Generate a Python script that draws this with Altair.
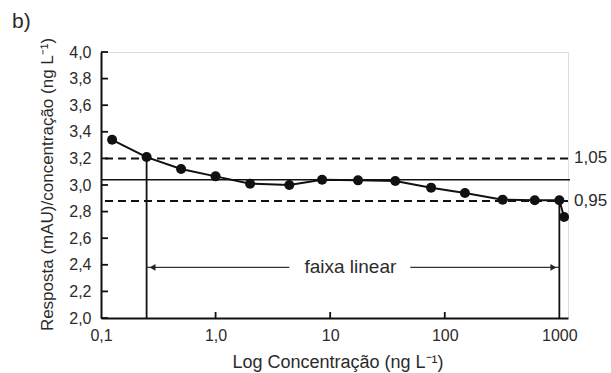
import altair as alt
import pandas as pd

# ---- data ----
conc = [0.125, 0.25, 0.5, 1.0, 2.0, 4.4, 8.5, 17.5, 37, 76, 150, 320, 610, 1000, 1100]
resp = [3.34, 3.21, 3.12, 3.065, 3.01, 3.00, 3.04, 3.035, 3.03, 2.98, 2.94, 2.89, 2.885, 2.885, 2.76]

ref_levels = [3.20, 3.04, 2.88]
ref_dashed = [True, False, True]
ref_labels = ["1,05", "", "0,95"]

lin_limits = [0.25, 1000]
lin_tops = [3.21, 2.885]
arrow_y = 2.38
arrow_starts = [0.25, 50]
arrow_ends = [4.4, 1000]
arrow_text = "faixa linear"
arrow_text_x = 15

x_ticks = [0.1, 1, 10, 100, 1000]
x_tick_labels = ["0,1", "1,0", "10", "100", "1000"]
y_ticks = [2.0, 2.2, 2.4, 2.6, 2.8, 3.0, 3.2, 3.4, 3.6, 3.8, 4.0]

x_title = "Log Concentração (ng L⁻¹)"
y_title = "Resposta (mAU)/concentração (ng L⁻¹)"
panel_label = "b)"

# ---- layout / style ----
W, H = 467, 266
FONT = "Liberation Sans"
INK = "#111111"
TXT = "#2b2b2b"

xscale = alt.Scale(type="log", domain=[0.1, 1190], nice=False)
yscale = alt.Scale(domain=[2.0, 4.0], nice=False, zero=False)

label_expr = " : ".join(
    f"datum.value == {v} ? '{l}'" for v, l in zip(x_ticks, x_tick_labels)
) + " : ''"

xaxis = alt.Axis(
    values=x_ticks, labelExpr=label_expr, ticks=False, grid=False,
    domainColor=INK, domainWidth=2, labelFont=FONT, labelFontSize=16,
    labelColor=TXT, labelPadding=9, labelFlush=False, labelOverlap=False,
    title=x_title, titleFont=FONT, titleFontSize=18, titleFontWeight="normal",
    titleColor=TXT, titleX=W / 2 + 3, titleY=44, titleBaseline="middle",
)
yaxis = alt.Axis(
    values=y_ticks, labelExpr="replace(format(datum.value, '.1f'), '.', ',')",
    ticks=False, grid=False, domainColor=INK, domainWidth=2,
    labelFont=FONT, labelFontSize=16, labelColor=TXT, labelPadding=10,
    labelOverlap=False, labelFlush=False,
    title=y_title, titleFont=FONT, titleFontSize=17, titleFontWeight="normal",
    titleColor=TXT, titleX=-54, titleY=H / 2 - 1, titleAngle=-90,
    titleAlign="center", titleBaseline="middle",
)


def X(field):
    return alt.X(field, type="quantitative", scale=xscale, axis=xaxis)


def Y(field):
    return alt.Y(field, type="quantitative", scale=yscale, axis=yaxis)


df = pd.DataFrame({"conc": conc, "resp": resp})

curve = alt.Chart(df).mark_line(color=INK, strokeWidth=2).encode(
    x=X("conc"), y=Y("resp"),
)
pts = alt.Chart(df).mark_circle(size=100, opacity=1, color=INK).encode(
    x=X("conc"), y=Y("resp"),
)

refdf = pd.DataFrame({"level": ref_levels, "dashed": ref_dashed, "label": ref_labels})
dashed = alt.Chart(refdf[refdf.dashed]).mark_rule(
    color=INK, strokeWidth=2, strokeDash=[8, 5]
).encode(
    y=Y("level"), x=alt.value(4), x2=alt.value(W + 4),
)
solid = alt.Chart(refdf[~refdf.dashed]).mark_rule(color=INK, strokeWidth=1.6).encode(
    y=Y("level"), x=alt.value(0), x2=alt.value(W + 2),
)
reflab = alt.Chart(refdf[refdf.dashed]).mark_text(
    align="left", baseline="middle", font=FONT, fontSize=17, color=TXT
).encode(
    y=Y("level"), x=alt.value(W + 6), text="label:N",
)

vdf = pd.DataFrame({"x": lin_limits, "top": lin_tops, "bottom": [2.0, 2.0]})
vlines = alt.Chart(vdf).mark_rule(color=INK, strokeWidth=1.8).encode(
    x=X("x"), y=Y("bottom"), y2="top:Q",
)

adf = pd.DataFrame({"x1": arrow_starts, "x2": arrow_ends, "y": [arrow_y, arrow_y]})
aline = alt.Chart(adf).mark_rule(color="#333333", strokeWidth=1.3).encode(
    x=X("x1"), x2="x2:Q", y=Y("y"),
)
hdf = pd.DataFrame({"x": lin_limits, "y": [arrow_y, arrow_y]})
head_l = alt.Chart(hdf.iloc[[0]]).mark_point(
    shape="triangle-left", filled=True, size=45, color="#222222", opacity=1, xOffset=6
).encode(x=X("x"), y=Y("y"))
head_r = alt.Chart(hdf.iloc[[1]]).mark_point(
    shape="triangle-right", filled=True, size=45, color="#222222", opacity=1, xOffset=-6
).encode(x=X("x"), y=Y("y"))
tdf = pd.DataFrame({"x": [arrow_text_x], "y": [arrow_y], "t": [arrow_text]})
atext = alt.Chart(tdf).mark_text(
    align="center", baseline="middle", font=FONT, fontSize=19, color=TXT
).encode(x=X("x"), y=Y("y"), text="t:N")

xt = pd.DataFrame({"x": x_ticks[1:4]})
xtick_marks = alt.Chart(xt).mark_rule(color=INK, strokeWidth=1.8).encode(
    x=X("x"), y=alt.value(H), y2=alt.value(H - 6)
)
yt = pd.DataFrame({"y": y_ticks})
ytick_marks = alt.Chart(yt).mark_rule(color=INK, strokeWidth=1.8).encode(
    y=Y("y"), x=alt.value(0), x2=alt.value(7)
)

pdf = pd.DataFrame({"t": [panel_label]})
plabel = alt.Chart(pdf).mark_text(
    align="left", baseline="middle", font=FONT, fontSize=21, color=TXT
).encode(x=alt.value(-89), y=alt.value(-30), text="t:N")

chart = alt.layer(
    curve, dashed, solid, vlines, aline, head_l, head_r, atext,
    xtick_marks, ytick_marks, pts, reflab, plabel,
).properties(
    width=W, height=H,
    padding={"left": 101, "top": 52, "right": 43, "bottom": 55},
    autosize=alt.AutoSizeParams(type="none"),
).configure_view(stroke=None).configure(background="white")

chart.save("out.html", embed_options={"renderer": "svg", "actions": False})
